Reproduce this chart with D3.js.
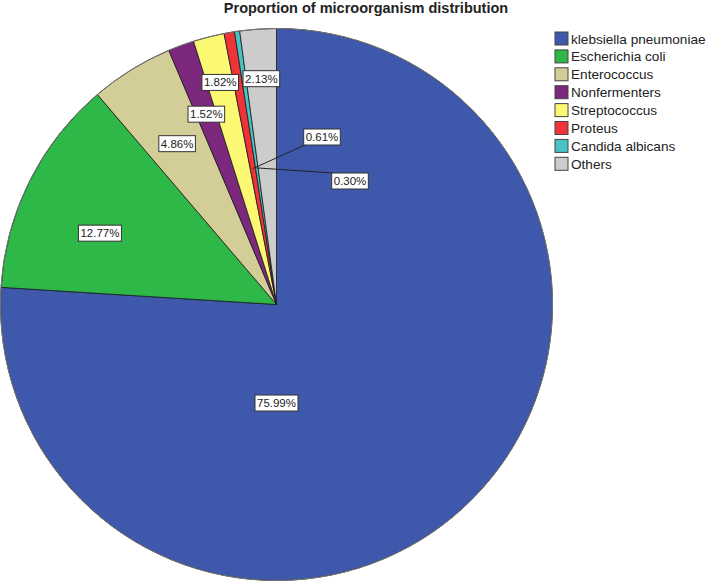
<!DOCTYPE html>
<html>
<head>
<meta charset="utf-8">
<script src="https://cdnjs.cloudflare.com/ajax/libs/d3/7.8.5/d3.min.js"></script>
<style>
  body { margin: 0; background: #fff; }
  svg { display: block; font-family: "Liberation Sans", Arial, sans-serif; }
</style>
</head>
<body>
<div id="chart"></div>
<script>
// data
var categories = ['klebsiella pneumoniae', 'Escherichia coli', 'Enterococcus', 'Nonfermenters',
    'Streptococcus', 'Proteus', 'Candida albicans', 'Others'];
var percents = [75.99, 12.77, 4.86, 1.52, 1.82, 0.61, 0.30, 2.13];
var labels = ['75.99%', '12.77%', '4.86%', '1.52%', '1.82%', '0.61%', '0.30%', '2.13%'];
var colors = ['#3e58ac', '#2eb848', '#d3ce97', '#7c287d', '#fbf873', '#ef3338', '#48c2c5', '#cccccc'];

// label placement: [angle override in deg or null, radius fraction, outside?]
var labelPlace = [
    [180, 0.357, false],
    [292, 0.69, false],
    [null, 0.685, false],
    [null, 0.735, false],
    [null, 0.83, false],
    [null, 0.5, true],
    [null, 0.5, true],
    [null, 0.82, false]
];
var outsideBoxes = { 5: [322, 137], 6: [350, 181] };

var width = 708, height = 583;
var cx = 276.5, cy = 304.5, R = 276;

var svg = d3.select('#chart').append('svg').attr('width', width).attr('height', height);

svg.append('text')
    .attr('x', 366).attr('y', 12.5)
    .attr('text-anchor', 'middle')
    .style('font-size', '14.5px').style('font-weight', 'bold').style('fill', '#222')
    .text('Proportion of microorganism distribution');

var pie = d3.pie().sort(null).value(function (d) { return d; });
var arcs = pie(percents);
var arc = d3.arc().innerRadius(0).outerRadius(R);

var g = svg.append('g').attr('transform', 'translate(' + cx + ',' + cy + ')');

g.selectAll('path.slice').data(arcs).enter().append('path')
    .attr('class', 'slice')
    .attr('d', arc)
    .style('fill', function (d, i) { return colors[i]; })
    .style('stroke', '#1a1a1a')
    .style('stroke-width', 0.8)
    .style('stroke-linejoin', 'round');

g.append('circle').attr('r', R).style('fill', 'none').style('stroke', '#777').style('stroke-width', 1);

function polar(angDeg, r) {
    var a = angDeg * Math.PI / 180;
    return [Math.sin(a) * r, -Math.cos(a) * r];
}

var lbl = svg.append('g');
arcs.forEach(function (d, i) {
    var p = labelPlace[i];
    var mid = (d.startAngle + d.endAngle) / 2 * 180 / Math.PI;
    var ang = p[0] === null ? mid : p[0];
    var pos = polar(ang, p[1] * R);
    var x = cx + pos[0], y = cy + pos[1];
    if (p[2]) {
        var b = outsideBoxes[i];
        var lx = b[0] - 17, ly = i === 5 ? b[1] + 8 : b[1] - 8;
        lbl.append('line')
            .attr('x1', x).attr('y1', y).attr('x2', lx).attr('y2', ly)
            .style('stroke', '#222').style('stroke-width', 1);
        x = b[0]; y = b[1];
    }
    var t = lbl.append('text')
        .attr('x', x).attr('y', y + 4)
        .attr('text-anchor', 'middle')
        .style('font-size', '11.5px').style('fill', '#222')
        .text(labels[i]);
    var bb = t.node().getBBox();
    lbl.insert('rect', function () { return t.node(); })
        .attr('x', bb.x - 2).attr('y', y - 8)
        .attr('width', bb.width + 4).attr('height', 16)
        .style('fill', '#fff').style('stroke', '#333').style('stroke-width', 1);
});

// legend
var legend = svg.append('g').attr('transform', 'translate(555,32)');
var rows = legend.selectAll('g').data(categories).enter().append('g')
    .attr('transform', function (d, i) { return 'translate(0,' + (i * 17.9) + ')'; });
rows.append('rect')
    .attr('width', 13).attr('height', 13)
    .style('fill', function (d, i) { return colors[i]; })
    .style('stroke', '#444').style('stroke-width', 1);
rows.append('text')
    .attr('x', 16).attr('y', 11.5)
    .style('font-size', '13.6px').style('fill', '#222')
    .text(function (d) { return d; });
</script>
</body>
</html>
